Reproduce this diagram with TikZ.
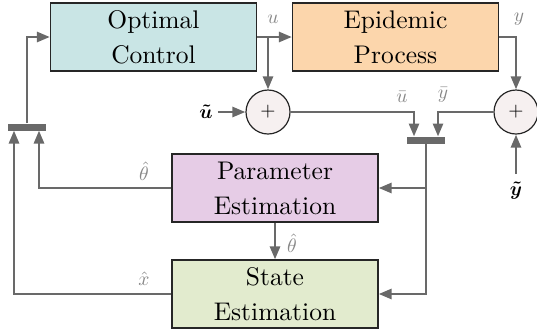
\documentclass[tikz,border=0pt]{standalone}
\usepackage{amsmath}
\usepackage{graphicx}
\usepackage{fontspec}
\setmainfont{lmroman10-regular.otf}
\usetikzlibrary{arrows.meta,calc}
\definecolor{lnc}{RGB}{105,105,105}
\definecolor{lbc}{RGB}{135,135,135}
\definecolor{ocfill}{RGB}{201,229,229}
\definecolor{epfill}{RGB}{252,214,172}
\definecolor{pefill}{RGB}{230,204,230}
\definecolor{sefill}{RGB}{226,235,206}
\definecolor{sumfill}{RGB}{246,240,240}
\newcommand{\lbm}[1]{\scalebox{1.95}{$#1$}}
\tikzset{
  blk/.style={draw=black!85,line width=1.2pt,minimum width=206pt,minimum height=68pt,inner sep=0pt,align=center,font=\fontsize{25.5}{35}\selectfont},
  sumnode/.style={circle,draw=black!85,line width=1.2pt,fill=sumfill,minimum size=44pt,inner sep=0pt},
  muxbar/.style={rectangle,fill=lnc,minimum width=38pt,minimum height=7pt,inner sep=0pt},
  conn/.style={draw=lnc,line width=2.7pt,-{Triangle[length=13pt,width=10pt]}},
  lbl/.style={text=lbc,inner sep=0pt},
  ilbl/.style={text=black,inner sep=0pt}
}
\begin{document}
\begin{tikzpicture}[x=1pt,y=-1pt]
\useasboundingbox (0,0) rectangle (537,333);
\node[blk,fill=ocfill] (oc) at (153.5,37) {Optimal\\Control};
\node[blk,fill=epfill] (ep) at (395.5,37) {Epidemic\\Process};
\node[blk,fill=pefill] (pe) at (275,188) {Parameter\\Estimation};
\node[blk,fill=sefill] (se) at (275,294) {State\\Estimation};
\node[sumnode] (s1) at (268,112) {\lbm{+}};
\node[sumnode] (s2) at (516,112) {\lbm{+}};
\node[muxbar] (mux) at (426,140) {};
\node[muxbar] (lmux) at (27,127) {};
\node[ilbl] (ut) at (206,112) {\lbm{\boldsymbol{\tilde{u}}}};
\node[ilbl] (yt) at (516,191) {\lbm{\boldsymbol{\tilde{y}}}};
\coordinate (ub) at (268,37);
\coordinate (mi1) at (414,136.5);
\coordinate (mi2) at (438,136.5);
\coordinate (lm1) at (14,130.5);
\coordinate (lm2) at (39,130.5);
% connectors
\draw[conn] (oc.east) -- (ep.west);
\draw[conn] (ub) -- (s1.north);
\draw[conn] (ep.east) -| (s2.north);
\draw[conn] (ut.east) ++(5,0) -- (s1.west);
\draw[conn] (yt.north) ++(0,-8) -- (s2.south);
\draw[conn] (s1.east) -| (mi1);
\draw[conn] (s2.west) -| (mi2);
\draw[conn] (mux.south) |- (se.east);
\draw[conn] (mux.south |- pe.east) -- (pe.east);
\draw[conn] (pe.west) -| (lm2);
\draw[conn] (se.west) -| (lm1);
\draw[conn] (lmux.north) |- (oc.west);
\draw[conn] (pe.south) -- (se.north);
% labels
\node[lbl] at (273,19) {\lbm{u}};
\node[lbl] at (519,19) {\lbm{y}};
\node[lbl] at (402,97) {\lbm{\bar{u}}};
\node[lbl] at (443,95) {\lbm{\bar{y}}};
\node[lbl] at (144,171) {\lbm{\hat{\theta}}};
\node[lbl] at (144,279) {\lbm{\hat{x}}};
\node[lbl] at (292,243) {\lbm{\hat{\theta}}};
\end{tikzpicture}
\end{document}
